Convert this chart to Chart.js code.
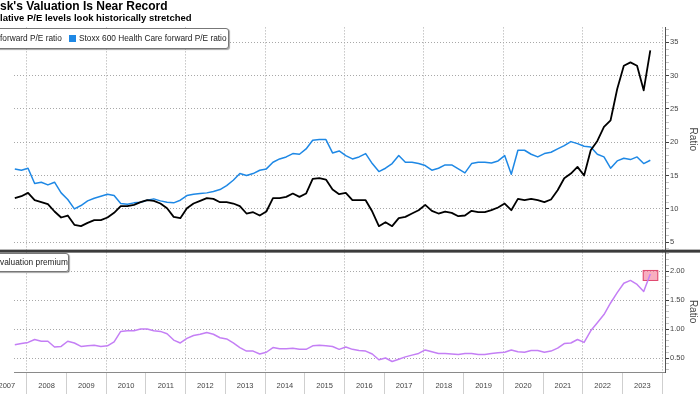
<!DOCTYPE html>
<html>
<head>
<meta charset="utf-8">
<script src="https://cdn.jsdelivr.net/npm/chart.js@4.4.0/dist/chart.umd.min.js"></script>
<style>
  html, body { margin: 0; padding: 0; background: #fff; }
  #wrap { position: relative; width: 700px; height: 394px; overflow: hidden; font-family: 'Liberation Sans', Arial, sans-serif; }
  #c { position: absolute; left: 0; top: 0; }
  .legend { position: absolute; box-sizing: border-box; background: #fff; border: 1px solid #777; border-radius: 3px;
            box-shadow: 1px 1px 1px rgba(0,0,0,0.35); font-size: 8.3px; color: #222; white-space: nowrap; }
  .legend span { position: absolute; top: 0; }
  .sw { width: 7px; height: 7px; }
</style>
</head>
<body>
<div id="wrap">
  <canvas id="c" width="700" height="394"></canvas>
  <div class="legend" style="left:-12px; top:28px; width:241px; height:21px;">
    <span style="left:11px; line-height:19px;">forward P/E ratio</span>
    <span class="sw" style="left:80px; top:6px; background:#1e88e5;"></span>
    <span style="left:90px; line-height:19px;">Stoxx 600 Health Care forward P/E ratio</span>
  </div>
  <div class="legend" style="left:-12px; top:253px; width:81px; height:19px;">
    <span style="left:11px; line-height:17px;">valuation premium</span>
  </div>
</div>
<script>
// two-monthly readings from mid-2007 to mid-2023
const startYear = 2007.7;
const stepYears = 1 / 6;

const novoPE = [11.6, 11.9, 12.4, 11.3, 11.0, 10.7, 9.6, 8.7, 9.0, 7.6,
  7.4, 7.9, 8.3, 8.3, 8.7, 9.4, 10.4, 10.4, 10.6, 11.0,
  11.3, 11.2, 10.8, 10.1, 8.8, 8.6, 10.1, 10.8, 11.2, 11.6,
  11.5, 11.0, 11.0, 10.8, 10.4, 9.3, 9.5, 9.0, 9.6, 11.6,
  11.6, 11.8, 12.3, 11.8, 12.3, 14.5, 14.6, 14.4, 12.9, 12.2,
  12.4, 11.3, 11.3, 11.3, 9.6, 7.4, 8.0, 7.4, 8.6, 8.8,
  9.3, 9.8, 10.6, 9.7, 9.3, 9.6, 9.4, 8.9, 9.0, 9.7,
  9.5, 9.5, 9.8, 10.2, 10.8, 9.8, 11.5, 11.3, 11.5, 11.3,
  11.0, 11.4, 12.8, 14.6, 15.3, 16.3, 15.0, 18.8, 20.2, 22.3,
  23.3, 28.0, 31.5, 32.0, 31.5, 27.8, 33.8];

const stoxxPE = [16.0, 15.8, 16.1, 13.8, 14.0, 13.6, 14.0, 12.4, 11.4, 10.0,
  10.5, 11.2, 11.6, 11.9, 12.2, 12.0, 10.8, 10.7, 10.9, 11.0,
  11.3, 11.5, 11.2, 11.0, 10.9, 11.3, 12.0, 12.2, 12.3, 12.4,
  12.6, 12.9, 13.5, 14.3, 15.3, 15.0, 15.3, 15.8, 16.0, 17.0,
  17.5, 17.8, 18.3, 18.2, 19.0, 20.3, 20.4, 20.4, 18.4, 18.7,
  18.0, 17.5, 17.8, 18.3, 16.8, 15.6, 16.1, 16.8, 18.0, 17.0,
  17.0, 16.8, 16.5, 15.8, 16.1, 16.6, 16.6, 16.0, 15.4, 16.8,
  17.0, 17.0, 16.9, 17.2, 18.0, 15.2, 18.8, 18.8, 18.2, 17.8,
  18.3, 18.5, 19.0, 19.5, 20.1, 19.8, 19.4, 19.3, 18.2, 17.8,
  16.1, 17.2, 17.6, 17.4, 17.8, 16.8, 17.3];

const premium = [0.73, 0.75, 0.77, 0.82, 0.79, 0.79, 0.69, 0.70, 0.79, 0.76,
  0.70, 0.71, 0.72, 0.70, 0.71, 0.78, 0.96, 0.97, 0.97, 1.00,
  1.00, 0.97, 0.96, 0.92, 0.81, 0.76, 0.84, 0.89, 0.91, 0.94,
  0.91, 0.85, 0.83, 0.76, 0.68, 0.62, 0.62, 0.57, 0.60, 0.68,
  0.66, 0.66, 0.67, 0.65, 0.65, 0.71, 0.72, 0.71, 0.70, 0.65,
  0.69, 0.65, 0.63, 0.62, 0.57, 0.47, 0.50, 0.44, 0.48, 0.52,
  0.55, 0.58, 0.64, 0.61, 0.58, 0.58, 0.57, 0.56, 0.58, 0.58,
  0.56, 0.56, 0.58, 0.59, 0.60, 0.64, 0.61, 0.60, 0.63, 0.63,
  0.60, 0.62, 0.67, 0.75, 0.76, 0.82, 0.77, 0.97, 1.11, 1.25,
  1.45, 1.63, 1.79, 1.84, 1.77, 1.65, 1.95];

const yearLabels = [2007, 2008, 2009, 2010, 2011, 2012, 2013, 2014, 2015,
  2016, 2017, 2018, 2019, 2020, 2021, 2022, 2023];
const topTicks = [4, 5, 6, 7, 8, 9, 10, 11, 12, 13, 14, 15, 16, 17, 18, 19, 20,
  21, 22, 23, 24, 25, 26, 27, 28, 29, 30, 31, 32, 33, 34, 35, 36, 37];
const bottomTicks = [0.3, 0.4, 0.5, 0.6, 0.7, 0.8, 0.9, 1.0, 1.1, 1.2, 1.3, 1.4,
  1.5, 1.6, 1.7, 1.8, 1.9, 2.0, 2.1, 2.2, 2.3];

// recent-record box in the lower panel
const highlight = { from: 2023.51, to: 2023.9, low: 1.83, high: 2.02 };

const dates = novoPE.map((_, i) => startYear + i * stepYears);
const pts = arr => arr.map((v, i) => ({ x: dates[i], y: v }));

const xTicks = [];
yearLabels.forEach(y => { xTicks.push(y, y + 0.5); });
xTicks.push(2024);

const isMajorBottom = v => Math.round(v * 10) % 5 === 0;
const gridGrey = '#a8a8a8';

const overlays = {
  id: 'overlays',
  beforeDatasetsDraw(chart) {
    const { ctx, scales: { x, yBot } } = chart;
    const x0 = x.getPixelForValue(highlight.from);
    const x1 = x.getPixelForValue(highlight.to);
    const y0 = yBot.getPixelForValue(highlight.high);
    const y1 = yBot.getPixelForValue(highlight.low);
    ctx.save();
    ctx.fillStyle = 'rgba(243, 120, 150, 0.6)';
    ctx.strokeStyle = '#e04a70';
    ctx.lineWidth = 1;
    ctx.fillRect(x0, y0, x1 - x0, y1 - y0);
    ctx.strokeRect(x0 + 0.5, y0 + 0.5, x1 - x0 - 1, y1 - y0 - 1);
    ctx.restore();
  },
  afterDraw(chart) {
    const { ctx, scales: { yBot } } = chart;
    ctx.save();
    ctx.fillStyle = '#3c3c3c';
    ctx.fillRect(0, yBot.top - 1.5, chart.width, 3);
    ctx.restore();
  }
};

Chart.defaults.font.family = "'Liberation Sans', Arial, sans-serif";

new Chart(document.getElementById('c'), {
  type: 'line',
  data: {
    datasets: [
      { label: 'forward P/E ratio', data: pts(novoPE), borderColor: '#000000', borderWidth: 1.8, yAxisID: 'yTop' },
      { label: 'Stoxx 600 Health Care forward P/E ratio', data: pts(stoxxPE), borderColor: '#1e88e5', borderWidth: 1.5, yAxisID: 'yTop' },
      { label: 'valuation premium', data: pts(premium), borderColor: '#c47ff5', borderWidth: 1.5, yAxisID: 'yBot' }
    ]
  },
  options: {
    responsive: false,
    animation: false,
    layout: { padding: 0, autoPadding: false },
    elements: { point: { radius: 0 }, line: { tension: 0, borderJoinStyle: 'round' } },
    plugins: {
      legend: { display: false },
      tooltip: { enabled: false },
      title: {
        display: true, align: 'start', color: '#000',
        text: "sk's Valuation Is Near Record",
        font: { size: 12, weight: 'bold', lineHeight: 1.0 },
        padding: { top: 1, bottom: 0 }
      },
      subtitle: {
        display: true, align: 'start', color: '#000',
        text: 'lative P/E levels look historically stretched',
        font: { size: 9.5, weight: 'bold', lineHeight: 1.2 },
        padding: { top: 0, bottom: 3 }
      }
    },
    scales: {
      x: {
        type: 'linear', min: 2007.68, max: 2024.07,
        afterBuildTicks: s => { s.ticks = xTicks.map(v => ({ value: v })); },
        afterFit: s => { s.height = 22; },
        border: { display: true, color: '#8a8a8a', width: 1, dash: [1, 2] },
        grid: {
          color: c => (c.tick && c.tick.value % 2 === 0) ? gridGrey : 'transparent',
          tickLength: 22,
          tickColor: c => (c.tick && Number.isInteger(c.tick.value)) ? '#cfcfcf' : 'transparent',
          tickBorderDash: []
        },
        ticks: {
          autoSkip: false, maxRotation: 0, padding: -13, color: '#444',
          font: { size: 7.5 },
          callback: v => (v % 1) ? String(Math.floor(v)) : ''
        }
      },
      yTop: {
        position: 'right', stack: 'panels', stackWeight: 224,
        min: 3.65, max: 37.25,
        afterBuildTicks: s => { s.ticks = topTicks.map(v => ({ value: v })); },
        afterFit: s => { s.width = 35; },
        border: { display: true, color: '#555', width: 1, dash: [1, 2] },
        grid: {
          color: c => (c.tick && c.tick.value % 5 === 0) ? gridGrey : 'transparent',
          tickLength: 4,
          tickColor: c => (c.tick && c.tick.value % 5 === 0) ? '#444' : '#c4c4c4',
          tickBorderDash: []
        },
        ticks: {
          autoSkip: false, padding: 1, color: '#444', font: { size: 7.5 },
          callback: v => v % 5 === 0 ? String(v) : ''
        },
        title: { display: true, text: 'Ratio', color: '#444', font: { size: 10 }, padding: { top: 1, bottom: 0 } }
      },
      yBot: {
        position: 'right', stack: 'panels', stackWeight: 121,
        min: 0.259, max: 2.345,
        afterBuildTicks: s => { s.ticks = bottomTicks.map(v => ({ value: v })); },
        afterFit: s => { s.width = 35; },
        border: { display: true, color: '#555', width: 1, dash: [1, 2] },
        grid: {
          color: c => (c.tick && isMajorBottom(c.tick.value)) ? gridGrey : 'transparent',
          tickLength: 4,
          tickColor: c => (c.tick && isMajorBottom(c.tick.value)) ? '#444' : '#c4c4c4',
          tickBorderDash: []
        },
        ticks: {
          autoSkip: false, padding: 1, color: '#444', font: { size: 7.5 },
          callback: v => isMajorBottom(v) ? v.toFixed(2) : ''
        },
        title: { display: true, text: 'Ratio', color: '#444', font: { size: 10 }, padding: { top: 1, bottom: 0 } }
      }
    }
  },
  plugins: [overlays]
});
</script>
</body>
</html>
